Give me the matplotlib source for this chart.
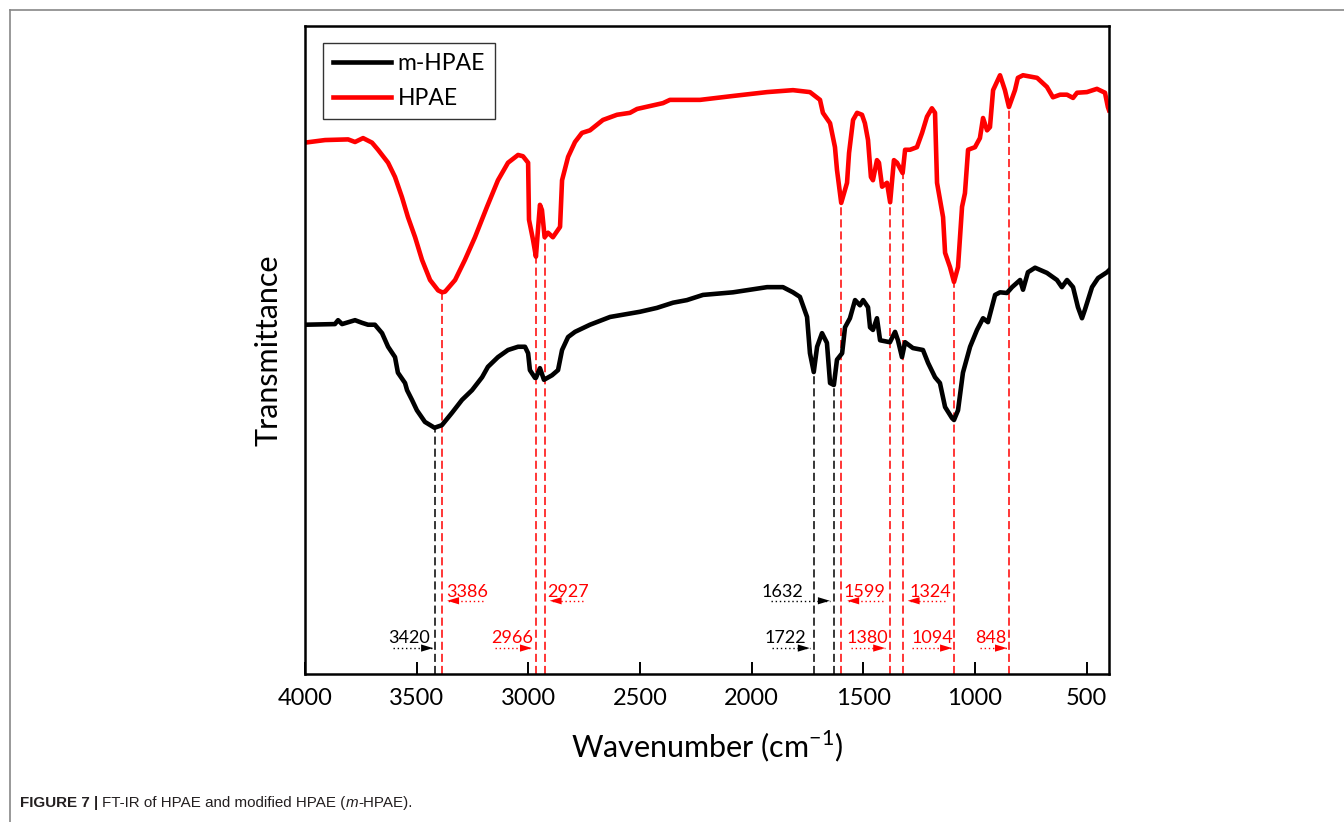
import numpy as np
import matplotlib
matplotlib.use('Agg')
import matplotlib.pyplot as plt
from matplotlib.lines import Line2D

# FT-IR spectra (wavenumber in cm-1, transmittance in arbitrary units, offset)
hpae_wn = [4000, 3910, 3807, 3776, 3740, 3700, 3673, 3628, 3597, 3566, 3539, 3507, 3476, 3440,
           3404, 3386, 3373, 3328, 3284, 3239, 3185, 3136, 3091, 3046, 3024, 3001, 2997, 2979,
           2966, 2957, 2948, 2939, 2927, 2912, 2890, 2858, 2849, 2822, 2791, 2760, 2724, 2666,
           2603, 2545, 2513, 2397, 2366, 2231, 2084, 1931, 1815, 1739, 1694, 1681, 1649, 1627,
           1618, 1599, 1573, 1564, 1546, 1528, 1506, 1493, 1479, 1466, 1457, 1439, 1430, 1416,
           1394, 1380, 1363, 1349, 1324, 1313, 1291, 1260, 1237, 1215, 1193, 1179, 1170, 1143,
           1134, 1112, 1094, 1076, 1058, 1045, 1031, 1000, 978, 964, 946, 933, 919, 888, 866,
           848, 821, 808, 785, 722, 678, 651, 619, 588, 561, 543, 499, 454, 418, 405, 400]
hpae_t = [82.0, 82.4, 82.5, 82.1, 82.7, 82.0, 80.9, 78.9, 76.7, 73.6, 70.5, 67.4, 63.9, 60.8,
          59.2, 58.9, 59.0, 60.8, 63.9, 67.4, 72.1, 76.2, 78.9, 80.1, 79.9, 78.9, 70.1, 67.0,
          64.4, 68.5, 72.4, 71.6, 67.4, 68.1, 67.4, 69.0, 76.2, 79.8, 82.1, 83.5, 83.9, 85.5,
          86.3, 86.6, 87.2, 88.1, 88.6, 88.6, 89.2, 89.8, 90.1, 89.8, 88.6, 86.6, 85.0, 81.3,
          77.8, 72.7, 75.8, 80.4, 85.5, 86.6, 86.3, 85.0, 82.4, 76.7, 76.2, 79.3, 78.9, 75.2,
          75.8, 72.8, 79.3, 78.9, 77.3, 80.9, 80.9, 81.3, 83.5, 86.0, 87.3, 86.6, 75.8, 70.5,
          65.0, 62.8, 60.5, 62.8, 72.1, 74.2, 80.9, 81.3, 82.7, 85.8, 83.9, 84.4, 90.1, 92.4, 90.1,
          87.5, 90.1, 92.0, 92.4, 92.0, 90.6, 89.0, 89.4, 89.4, 88.9, 89.7, 89.8, 90.3, 89.7, 87.5, 87.0]

mhpae_wn = [4000, 3866, 3852, 3834, 3776, 3745, 3718, 3687, 3655, 3628, 3597, 3584, 3552, 3543,
            3521, 3499, 3463, 3420, 3387, 3342, 3297, 3252, 3207, 3181, 3136, 3091, 3046, 3015,
            3001, 2993, 2970, 2966, 2948, 2930, 2894, 2867, 2849, 2822, 2791, 2724, 2634, 2500,
            2424, 2352, 2290, 2218, 2084, 1931, 1860, 1815, 1784, 1752, 1739, 1722, 1707, 1685,
            1663, 1649, 1632, 1618, 1595, 1582, 1560, 1537, 1515, 1501, 1479, 1470, 1457, 1439,
            1425, 1381, 1358, 1345, 1327, 1313, 1278, 1233, 1210, 1179, 1157, 1134, 1103, 1094,
            1076, 1054, 1022, 991, 964, 942, 910, 888, 857, 834, 798, 785, 763, 731, 678, 633,
            611, 588, 561, 539, 521, 508, 476, 449, 409, 400]
mhpae_t = [53.9, 54.0, 54.6, 54.0, 54.6, 54.2, 53.9, 53.9, 52.6, 50.5, 48.9, 46.5, 44.9, 43.8,
           42.3, 40.7, 38.9, 38.0, 38.4, 40.3, 42.3, 43.8, 45.8, 47.4, 48.9, 50.0, 50.5, 50.5,
           49.5, 46.9, 45.7, 45.7, 47.2, 45.4, 46.1, 46.9, 50.0, 52.0, 52.8, 53.9, 55.1, 55.9,
           56.5, 57.3, 57.7, 58.5, 58.9, 59.7, 59.7, 58.9, 58.2, 55.1, 49.5, 46.6, 50.5, 52.6,
           51.1, 44.9, 44.6, 48.5, 49.5, 53.5, 54.9, 57.7, 56.9, 57.7, 56.6, 53.5, 53.1, 54.9,
           51.5, 51.2, 52.8, 51.5, 48.9, 51.2, 50.3, 50.0, 48.0, 45.8, 44.9, 41.2, 39.5, 39.2,
           40.7, 46.5, 50.5, 53.1, 54.9, 54.3, 58.5, 58.9, 58.8, 59.7, 60.8, 59.3, 62.0, 62.7,
           61.9, 60.8, 59.7, 60.8, 59.7, 56.6, 54.9, 56.2, 59.7, 61.1, 62.0, 62.3]

# assigned bands
hpae_peaks = [3386, 2966, 2927, 1599, 1380, 1324, 1094, 848]
mhpae_peaks = [3420, 1722, 1632]

# band labels: (value, colour, row, text shift, tail shift, tip shift) shifts in px, + = to the right
px_wn = 3600 / 804.0
band_labels = [
    (3386, 'red', 0, 25, 41, 5),
    (2927, 'red', 0, 23, 38, 5),
    (1632, 'black', 0, -51, -63, -4),
    (1599, 'red', 0, 23, 42, 6),
    (1324, 'red', 0, 28, 42, 5),
    (3420, 'black', 1, -25, -42, -1.5),
    (2966, 'red', 1, -23.5, -41, -4),
    (1722, 'black', 1, -28, -42, -4),
    (1380, 'red', 1, -23, -39, -5),
    (1094, 'red', 1, -22, -42, -2),
    (848, 'red', 1, -18, -29, -2),
]
row_text_y = [12.65, 5.56]
row_arrow_y = [11.3, 4.0]

plt.rcParams['font.family'] = ['Lato', 'DejaVu Sans']

fig = plt.figure(figsize=(13.44, 8.22), dpi=100)
ax = fig.add_axes([305 / 1344, 1 - 674 / 822, 804 / 1344, 648 / 822])

ax.plot(mhpae_wn, mhpae_t, color='black', lw=3.3, label='m-HPAE', solid_joinstyle='round')
ax.plot(hpae_wn, hpae_t, color='#ff0000', lw=3.3, label='HPAE', solid_joinstyle='round')

# dashed guides from each band minimum down to the axis
for p in hpae_peaks:
    top = np.interp(p, hpae_wn[::-1], hpae_t[::-1])
    ax.plot([p, p], [0, top], color='#ff0000', lw=1.1, dashes=(5.3, 2.6), zorder=1)
for p in mhpae_peaks:
    top = np.interp(p, mhpae_wn[::-1], mhpae_t[::-1])
    ax.plot([p, p], [0, top], color='black', lw=1.1, dashes=(5.3, 2.6), zorder=1)

for val, col, row, tdx, tail_dx, tip_dx in band_labels:
    c = '#ff0000' if col == 'red' else 'black'
    tx = val - tdx * px_wn
    tail = val - tail_dx * px_wn
    tip = val - tip_dx * px_wn
    ya = row_arrow_y[row]
    ax.text(tx, row_text_y[row], str(val), color=c, fontsize=13, ha='center', va='center')
    ax.plot([tail, tip], [ya, ya], color=c, lw=1.0, linestyle=(0, (1, 2)))
    d = 1 if tip < tail else -1
    ax.annotate('', xy=(tip, ya), xytext=(tip + d * 12 * px_wn, ya),
                arrowprops=dict(arrowstyle='-|>,head_length=0.86,head_width=0.26',
                                color=c, lw=0, shrinkA=0, shrinkB=0, mutation_scale=10))

ax.set_xlim(4000, 400)
ax.set_ylim(0, 100)
ax.set_xticks([4000, 3500, 3000, 2500, 2000, 1500, 1000, 500])
ax.set_yticks([])
ax.tick_params(axis='x', direction='in', length=9, width=1.4, labelsize=17, pad=10)
for s in ax.spines.values():
    s.set_linewidth(1.8)

ax.set_xlabel('Wavenumber (cm$^{\\mathregular{-1}}$)', fontsize=22, labelpad=14)
ax.set_ylabel('Transmittance', fontsize=22, labelpad=16)

leg = ax.legend(loc='upper left', bbox_to_anchor=(0.0224, 0.9738), borderaxespad=0,
                fontsize=16.5, handlelength=2.5, frameon=True, fancybox=False,
                framealpha=1, edgecolor='#333333', borderpad=0.45, labelspacing=0.6,
                handletextpad=0.3)
leg.get_frame().set_linewidth(1.0)

# page frame lines
fig.add_artist(Line2D([10 / 1344, 1], [1 - 10.5 / 822] * 2, color='#888888', lw=1.2))
fig.add_artist(Line2D([10 / 1344] * 2, [0, 1 - 10.5 / 822], color='#888888', lw=1.2))

# caption, built from styled pieces
renderer = fig.canvas.get_renderer()
x = 20 / 1344
yb = 1 - 807 / 822
pieces = [('FIGURE 7 | ', 'bold', 'normal'),
          ('FT-IR of HPAE and modified HPAE (', 'normal', 'normal'),
          ('m', 'normal', 'italic'),
          ('-HPAE).', 'normal', 'normal')]
for txt, wt, st in pieces:
    t = fig.text(x, yb, txt, fontsize=10.9, family='Liberation Sans', weight=wt,
                 style=st, color='#231f20', va='baseline', ha='left')
    bb = t.get_window_extent(renderer)
    x = bb.x1 / fig.bbox.width

fig.savefig('out.png', dpi=100)
